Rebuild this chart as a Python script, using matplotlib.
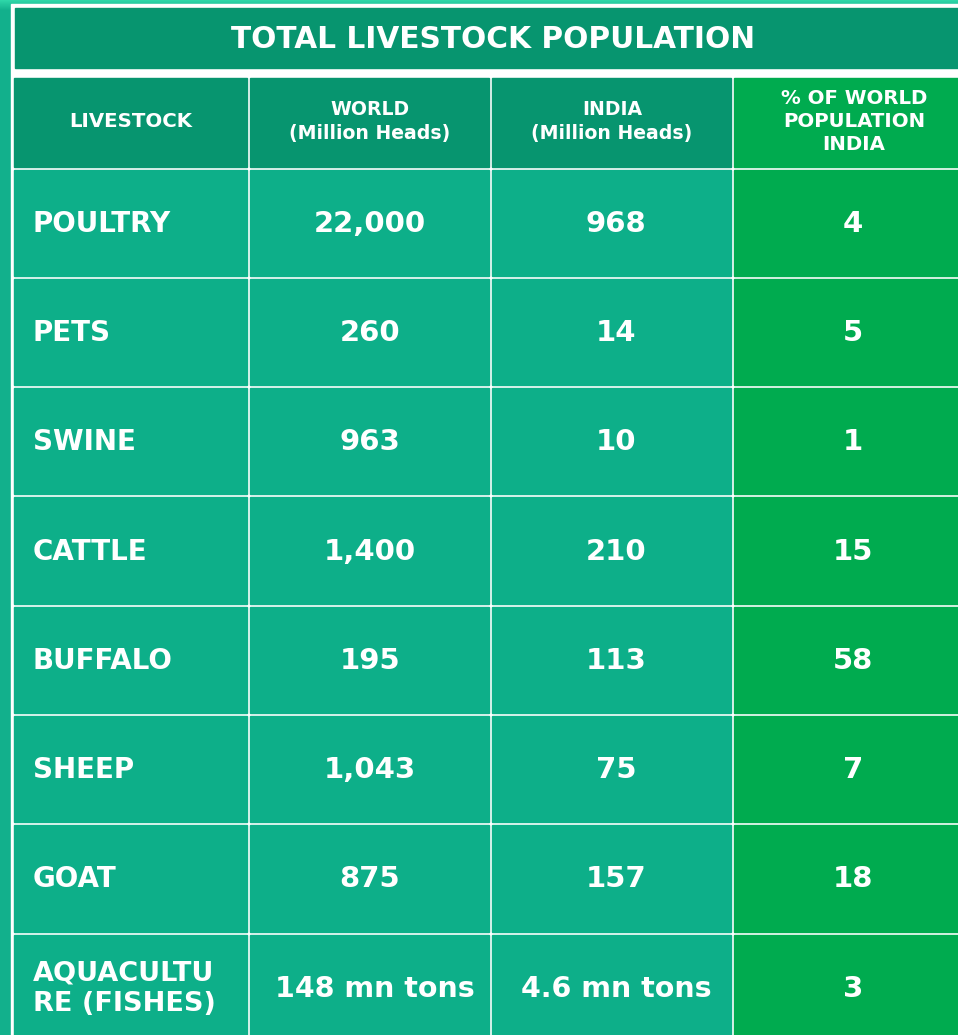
import matplotlib
matplotlib.use("Agg")
import matplotlib.pyplot as plt
from matplotlib.patches import Rectangle
import numpy as np

title = "TOTAL LIVESTOCK POPULATION"
headers = ["LIVESTOCK", "WORLD\n(Million Heads)", "INDIA\n(Million Heads)", "% OF WORLD\nPOPULATION\nINDIA"]
livestock = ["POULTRY", "PETS", "SWINE", "CATTLE", "BUFFALO", "SHEEP", "GOAT", "AQUACULTU\nRE (FISHES)"]
world = ["22,000", "260", "963", "1,400", "195", "1,043", "875", "148 mn tons"]
india = ["968", "14", "10", "210", "113", "75", "157", "4.6 mn tons"]
pct = ["4", "5", "1", "15", "58", "7", "18", "3"]

W, H = 958, 1035
fig = plt.figure(figsize=(W / 100, H / 100), dpi=100)
ax = fig.add_axes([0, 0, 1, 1])
ax.set_xlim(0, W)
ax.set_ylim(H, 0)
ax.axis("off")

# background with slight gradient at top
bg = np.ones((H, 1, 3))
base = np.array(matplotlib.colors.to_rgb("#12b08c"))
top = np.array(matplotlib.colors.to_rgb("#2ed6a8"))
for y in range(H):
    t = min(1.0, y / 10.0)
    bg[y, 0] = top * (1 - t) + base * t
ax.imshow(bg, extent=[0, W, H, 0], aspect="auto", zorder=0)

col_x = [13, 249, 491, 733, 975]
title_y = (6, 68)
head_y = (76, 168)
row_h = 109.3
row_y = [head_y[1] + i * row_h for i in range(len(livestock) + 1)]

dark = "#07956f"
cell = "#0daf89"
green = "#00ab4f"
FONT = "DejaVu Sans"

# white frame
ax.add_patch(Rectangle((col_x[0] - 2, title_y[0] - 2), W, H, color="white", zorder=1))
# title bar
ax.add_patch(Rectangle((col_x[0] + 2, title_y[0] + 2), W, title_y[1] - title_y[0] - 2, color=dark, zorder=2))
ax.text((col_x[0] + W) / 2 + 8, (title_y[0] + title_y[1]) / 2 + 2, title, ha="center", va="center",
        color="white", fontsize=21.3, fontweight="bold", family=FONT, zorder=3)

gap = 1.5
for j in range(4):
    x0, x1 = col_x[j] + gap, col_x[j + 1] - gap
    hc = green if j == 3 else dark
    ax.add_patch(Rectangle((x0, head_y[0] + gap), x1 - x0, head_y[1] - head_y[0] - 2 * gap, color=hc, zorder=2))
    for i in range(len(livestock)):
        y0, y1 = row_y[i] + gap, row_y[i + 1] - gap
        c = green if j == 3 else cell
        ax.add_patch(Rectangle((x0, y0), x1 - x0, y1 - y0, color=c, zorder=2))

# headers
hcx = [131, 370, 612, 854]
hfs = [14.2, 13.6, 13.6, 14.2]
for j, h in enumerate(headers):
    ax.text(hcx[j], (head_y[0] + head_y[1]) / 2 - 0.5, h, ha="center", va="center", color="white",
            fontsize=hfs[j], fontweight="bold", family=FONT, linespacing=1.3, zorder=3)

for i in range(len(livestock)):
    yc = (row_y[i] + row_y[i + 1]) / 2 + 1
    last = i == len(livestock) - 1
    ax.text(33, yc, livestock[i], ha="left", va="center", color="white",
            fontsize=19.5 if last else 20, fontweight="bold", family=FONT, linespacing=1.27, zorder=3)
    fs = 20.5 if last else 21
    ax.text(375 if last else 370, yc, world[i], ha="center", va="center", color="white", fontsize=fs,
            fontweight="bold", family=FONT, zorder=3)
    ax.text(616, yc, india[i], ha="center", va="center", color="white", fontsize=fs,
            fontweight="bold", family=FONT, zorder=3)
    ax.text(853, yc, pct[i], ha="center", va="center", color="white", fontsize=21,
            fontweight="bold", family=FONT, zorder=3)

fig.savefig("out.png", dpi=100)
